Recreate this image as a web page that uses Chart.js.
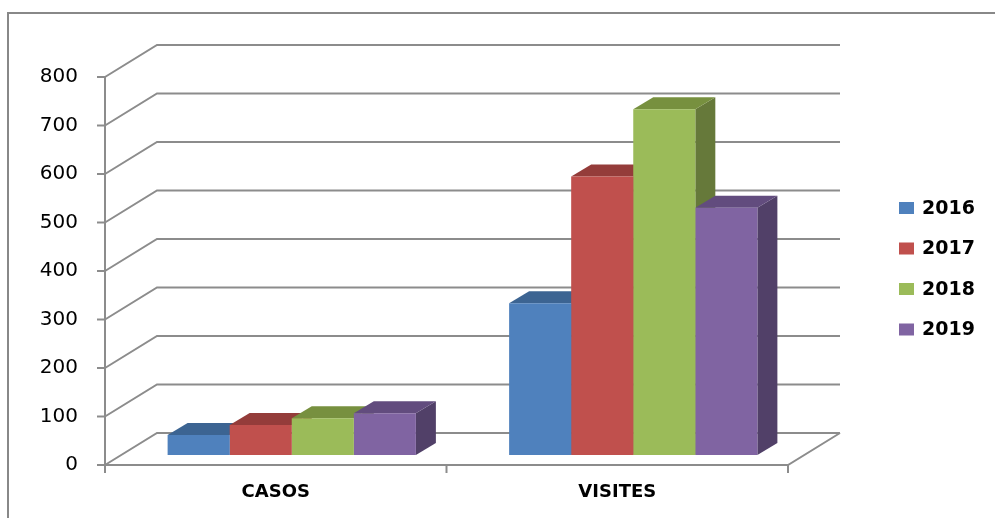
<!DOCTYPE html>
<html>
<head>
<meta charset="utf-8">
<script src="https://cdn.jsdelivr.net/npm/chart.js@4/dist/chart.umd.min.js"></script>
<style>
    html, body { margin: 0; padding: 0; background: #fff; }
    #wrap { width: 995px; height: 518px; }
</style>
</head>
<body>
<div id="wrap"><canvas id="barChart" width="995" height="518"></canvas></div>
<script>
// Data
const categories = ['CASOS', 'VISITES'];
const years = ['2016', '2017', '2018', '2019'];
const values2016 = [41, 313];
const values2017 = [62, 574];
const values2018 = [76, 713];
const values2019 = [86, 510];
const yTicks = [0, 100, 200, 300, 400, 500, 600, 700, 800];

// Excel 2007 palette: front, top, side
const colors = {
    front: ['#4F81BD', '#C0504D', '#9BBB59', '#8064A2'],
    top:   ['#3C6492', '#943C3A', '#77903F', '#624C7E'],
    side:  ['#385D8A', '#8C3836', '#66793A', '#514068']
};

// 3D offsets relative to the bar plane (chart area)
const FRONT = { x: -16, y: 10 };
const BACK = { x: 36, y: -22 };
const BAR_DEPTH = { x: 20, y: -12 };
const gridColor = '#8C8C8C';

function poly(ctx, pts, fill) {
    ctx.beginPath();
    ctx.moveTo(pts[0][0], pts[0][1]);
    for (let i = 1; i < pts.length; i++) ctx.lineTo(pts[i][0], pts[i][1]);
    ctx.closePath();
    ctx.fillStyle = fill;
    ctx.fill();
}

const walls3d = {
    id: 'walls3d',
    beforeDraw(chart) {
        // outer chart frame (only top and left edges are visible)
        const ctx = chart.ctx;
        ctx.save();
        ctx.strokeStyle = '#888';
        ctx.lineWidth = 2;
        ctx.beginPath();
        ctx.moveTo(8, 530);
        ctx.lineTo(8, 13);
        ctx.lineTo(1000, 13);
        ctx.stroke();
        ctx.restore();
    },
    beforeDatasetsDraw(chart) {
        const { ctx, chartArea: a, scales: { y } } = chart;
        ctx.save();
        ctx.strokeStyle = gridColor;
        ctx.lineWidth = 2;

        // back wall gridlines + left wall diagonals
        yTicks.forEach(v => {
            const py = y.getPixelForValue(v);
            ctx.beginPath();
            ctx.moveTo(a.left + FRONT.x, py + FRONT.y);
            ctx.lineTo(a.left + BACK.x, py + BACK.y);
            ctx.lineTo(a.right + BACK.x, py + BACK.y);
            ctx.stroke();
            // tick mark
            ctx.beginPath();
            ctx.moveTo(a.left + FRONT.x - 8, py + FRONT.y);
            ctx.lineTo(a.left + FRONT.x, py + FRONT.y);
            ctx.stroke();
        });

        // front value axis
        const y0 = y.getPixelForValue(0);
        const yMax = y.getPixelForValue(800);
        ctx.beginPath();
        ctx.moveTo(a.left + FRONT.x, y0 + FRONT.y);
        ctx.lineTo(a.left + FRONT.x, yMax + FRONT.y);
        ctx.stroke();

        // floor front and right edge
        ctx.beginPath();
        ctx.moveTo(a.left + FRONT.x, y0 + FRONT.y);
        ctx.lineTo(a.right + FRONT.x, y0 + FRONT.y);
        ctx.lineTo(a.right + BACK.x, y0 + BACK.y);
        ctx.stroke();

        // category tick marks
        [a.left, (a.left + a.right) / 2, a.right].forEach(px => {
            ctx.beginPath();
            ctx.moveTo(px + FRONT.x, y0 + FRONT.y);
            ctx.lineTo(px + FRONT.x, y0 + FRONT.y + 8);
            ctx.stroke();
        });

        // bar tops and sides, left to right
        const metas = chart.data.datasets.map((d, i) => chart.getDatasetMeta(i));
        categories.forEach((c, ci) => {
            metas.forEach((meta, di) => {
                const bar = meta.data[ci];
                const { x: bx, y: by, base, width } = bar.getProps(['x', 'y', 'base', 'width'], true);
                const l = bx - width / 2, r = bx + width / 2;
                poly(ctx, [[r, by], [r + BAR_DEPTH.x, by + BAR_DEPTH.y],
                    [r + BAR_DEPTH.x, base + BAR_DEPTH.y], [r, base]], colors.side[di]);
                poly(ctx, [[l, by], [l + BAR_DEPTH.x, by + BAR_DEPTH.y],
                    [r + BAR_DEPTH.x, by + BAR_DEPTH.y], [r, by]], colors.top[di]);
            });
        });
        ctx.restore();
    },
    afterDraw(chart) {
        // legend
        const ctx = chart.ctx;
        ctx.save();
        ctx.font = 'bold 19px "DejaVu Sans"';
        ctx.textBaseline = 'middle';
        chart.data.datasets.forEach((ds, i) => {
            const cy = 208 + i * 40.5;
            ctx.fillStyle = ds.backgroundColor;
            ctx.fillRect(899, cy - 6, 15, 12);
            ctx.fillStyle = '#000';
            ctx.fillText(ds.label, 922, cy + 1);
        });
        ctx.restore();
    }
};

const seriesValues = [values2016, values2017, values2018, values2019];

new Chart(document.getElementById('barChart'), {
    type: 'bar',
    data: {
        labels: categories,
        datasets: years.map((yr, i) => ({
            label: yr,
            data: seriesValues[i],
            backgroundColor: colors.front[i],
            borderWidth: 0,
            categoryPercentage: 0.727,
            barPercentage: 1
        }))
    },
    options: {
        responsive: false,
        animation: false,
        layout: { padding: { top: 67, right: 191, left: 0, bottom: 0 } },
        plugins: {
            legend: { display: false },
            tooltip: { enabled: false }
        },
        scales: {
            x: {
                grid: { display: false, drawTicks: false },
                border: { display: false },
                ticks: {
                    font: { family: 'DejaVu Sans', size: 18, weight: 'bold' },
                    color: '#000',
                    padding: 27,
                    labelOffset: FRONT.x
                },
                afterFit: (scale) => { scale.height = 63; }
            },
            y: {
                min: 0,
                max: 800,
                grid: { display: false, drawTicks: false },
                border: { display: false },
                ticks: {
                    stepSize: 100,
                    font: { family: 'DejaVu Sans', size: 20 },
                    color: '#000',
                    padding: 43,
                    labelOffset: FRONT.y
                },
                afterFit: (scale) => { scale.width = 121; }
            }
        }
    },
    plugins: [walls3d]
});
</script>
</body>
</html>
